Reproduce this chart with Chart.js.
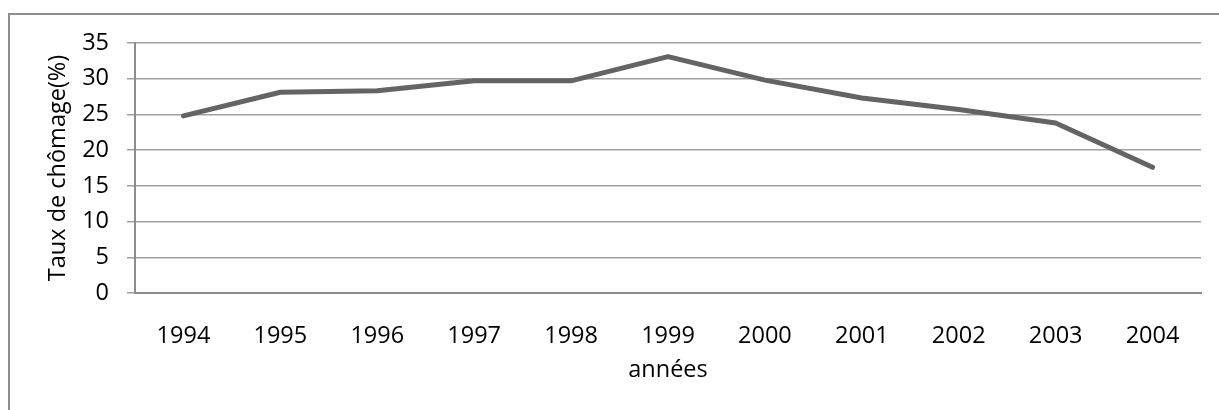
<!DOCTYPE html>
<html>
<head>
<meta charset="utf-8">
<script src="https://cdn.jsdelivr.net/npm/chart.js@4"></script>
<style>
    body { margin: 0; overflow: hidden; background: #fff; }
    #frame { position: absolute; left: 8px; top: 13px; width: 1400px; height: 600px;
             border-left: 2px solid #8c8c8c; border-top: 2px solid #8c8c8c; }
    #chart { position: absolute; left: 0; top: 0; }
</style>
</head>
<body>
<div id="frame"></div>
<canvas id="chart" width="1219" height="410"></canvas>
<script>
// Data
const years = ['1994', '1995', '1996', '1997', '1998', '1999', '2000', '2001', '2002', '2003', '2004'];
const unemployment = [24.8, 28.1, 28.3, 29.7, 29.7, 33.1, 29.8, 27.3, 25.7, 23.8, 17.6];
const yTicks = [0, 5, 10, 15, 20, 25, 30, 35];

const font = { family: 'Open Sans', size: 23.5 };

const ctx = document.getElementById('chart').getContext('2d');
new Chart(ctx, {
    type: 'line',
    data: {
        labels: years,
        datasets: [{
            data: unemployment,
            borderColor: '#646464',
            borderWidth: 5,
            borderCapStyle: 'round',
            borderJoinStyle: 'round',
            pointRadius: 0,
            tension: 0
        }]
    },
    options: {
        responsive: false,
        animation: false,
        layout: { padding: { left: 44, top: 43, right: 18, bottom: 26 } },
        plugins: { legend: { display: false }, tooltip: { enabled: false } },
        scales: {
            x: {
                offset: true,
                grid: { display: false },
                border: { display: true, color: '#8c8c8c', width: 2 },
                ticks: { color: '#000', font: font, padding: 21, maxRotation: 0 },
                title: { display: true, text: 'années', color: '#000', font: font, padding: 0 },
                afterFit: function(scale) { scale.height = 91; }
            },
            y: {
                min: 0,
                max: 35,
                afterBuildTicks: function(scale) {
                    scale.ticks = yTicks.map(v => ({ value: v }));
                },
                grid: { color: '#a0a0a0', lineWidth: 1.5, tickLength: 8 },
                border: { display: true, color: '#8c8c8c', width: 2 },
                ticks: { color: '#000', font: font, padding: 18 },
                title: { display: true, text: 'Taux de chômage(%)', color: '#000', font: font, padding: 0 },
                afterFit: function(scale) { scale.width = 91; }
            }
        }
    }
});
</script>
</body>
</html>
